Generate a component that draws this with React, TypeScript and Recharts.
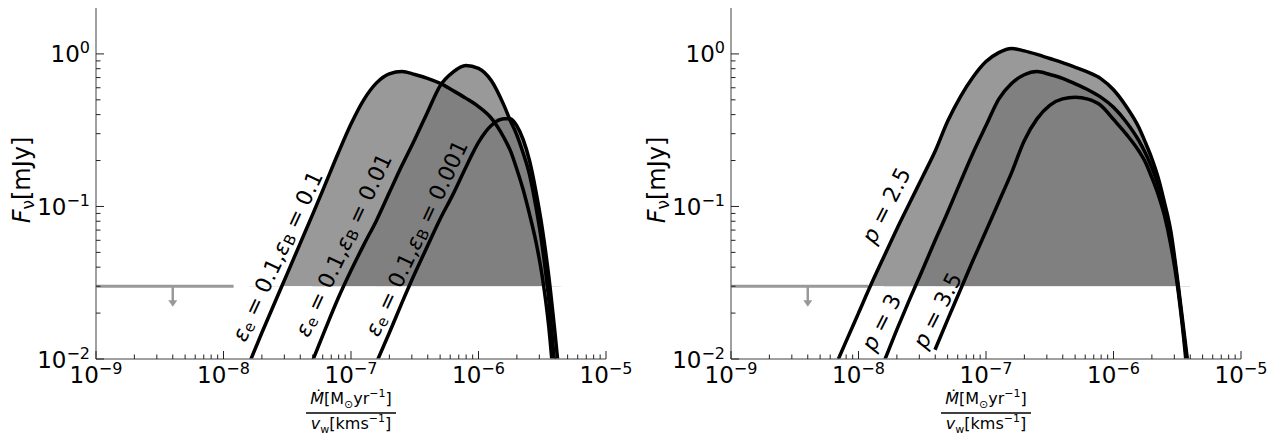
import React from "react";
import { ComposedChart, Area, Line, Scatter, XAxis, YAxis } from "recharts";

// log10 of Mdot/v_w sample positions (left panel)
const LEFT_LOGX = [
  -7.8, -7.7, -7.6, -7.5, -7.4, -7.3, -7.2, -7.1, -7.0, -6.9, -6.8, -6.7, -6.6, -6.5, -6.4,
  -6.3, -6.2, -6.1, -6.0, -5.9, -5.8, -5.75, -5.7, -5.65, -5.6, -5.55, -5.5, -5.45, -5.4, -5.35,
];
// F_nu [mJy], eps_e = 0.1, eps_B = 0.1
const LEFT_EB_01 = [
  0.0093, 0.0148, 0.0232, 0.0363, 0.0569, 0.089, 0.141, 0.224, 0.347, 0.5, 0.646, 0.741, 0.767, 0.733, 0.692,
  0.641, 0.575, 0.513, 0.452, 0.38, 0.282, 0.232, 0.176, 0.129, 0.089, 0.059, 0.0347, 0.0166, 0.0056, null,
];
// eps_B = 0.01
const LEFT_EB_001 = [
  null, null, null, null, null, 0.0098, 0.0158, 0.0251, 0.038, 0.056, 0.081, 0.123, 0.186, 0.275, 0.415,
  0.62, 0.76, 0.84, 0.805, 0.67, 0.46, 0.365, 0.295, 0.224, 0.162, 0.1, 0.055, 0.0251, 0.0087, null,
];
// eps_B = 0.001
const LEFT_EB_0001 = [
  null, null, null, null, null, null, null, null, null, null, 0.0095, 0.0148, 0.0234, 0.0363, 0.055,
  0.083, 0.12, 0.18, 0.263, 0.339, 0.376, 0.376, 0.339, 0.275, 0.2, 0.126, 0.072, 0.0355, 0.0148, 0.0056,
];

// right panel
const RIGHT_LOGX = [
  -8.2, -8.1, -8.0, -7.9, -7.8, -7.7, -7.6, -7.5, -7.4, -7.3, -7.2, -7.1, -7.0, -6.9, -6.8, -6.7, -6.6,
  -6.5, -6.4, -6.3, -6.2, -6.1, -6.0, -5.9, -5.8, -5.75, -5.7, -5.65, -5.6, -5.55, -5.5, -5.45, -5.4,
];
const RIGHT_P25 = [
  0.0083, 0.0129, 0.02, 0.031, 0.047, 0.071, 0.105, 0.155, 0.229, 0.363, 0.525, 0.708, 0.891, 1.02, 1.086, 1.047, 0.993,
  0.933, 0.877, 0.817, 0.759, 0.689, 0.582, 0.452, 0.328, 0.263, 0.207, 0.155, 0.106, 0.0684, 0.0343, 0.0158, 0.0072,
];
const RIGHT_P3 = [
  null, null, null, null, 0.0096, 0.0155, 0.0245, 0.038, 0.0596, 0.092, 0.145, 0.226, 0.339, 0.505, 0.64, 0.73, 0.766,
  0.733, 0.692, 0.637, 0.582, 0.521, 0.447, 0.358, 0.269, 0.224, 0.18, 0.138, 0.096, 0.0617, 0.0327, 0.0148, 0.0063,
];
const RIGHT_P35 = [
  null, null, null, null, null, null, null, null, 0.0115, 0.0182, 0.0285, 0.0447, 0.069, 0.107, 0.166, 0.27, 0.375,
  0.46, 0.507, 0.52, 0.505, 0.46, 0.372, 0.298, 0.23, 0.195, 0.155, 0.12, 0.087, 0.0556, 0.0309, 0.0138, 0.005,
];

const LEFT_LABELS = [
  { x: 2.63e-8, y: 0.0473, eB: "0.1" },
  { x: 8.65e-8, y: 0.056, eB: "0.01" },
  { x: 3.24e-7, y: 0.062, eB: "0.001" },
];
const RIGHT_LABELS = [
  { x: 1.64e-8, y: 0.102, p: "2.5" },
  { x: 1.5e-8, y: 0.0175, p: "3" },
  { x: 4.13e-8, y: 0.0209, p: "3.5" },
];

const THRESHOLD = 0.03;
const LIMIT_END = 1.2e-8;
const ARROW_X = 4e-9;

const X_MIN = 1e-9;
const X_MAX = 1e-5;
const Y_MIN = 0.01;
const Y_MAX = 2;

const X_MAJOR = [1e-9, 1e-8, 1e-7, 1e-6, 1e-5];
const X_MAJOR_EXP = ["−9", "−8", "−7", "−6", "−5"];
const Y_MAJOR = [0.01, 0.1, 1];
const Y_MAJOR_EXP = ["−2", "−1", "0"];
const MINOR_MANT = [2, 3, 4, 5, 6, 7, 8, 9];

const X_TICKS = [...X_MAJOR, ...X_MAJOR.slice(0, -1).flatMap((d) => MINOR_MANT.map((m) => m * d))].sort((a, b) => a - b);
const Y_TICKS = [...Y_MAJOR, ...Y_MAJOR.slice(0, -1).flatMap((d) => MINOR_MANT.map((m) => m * d))].sort((a, b) => a - b);

const FONT = "DejaVu Sans, Verdana, sans-serif";
const LIGHT = "#999999";
const DARK = "#808080";
const LIMIT = "#999999";

function buildRows(logx: number[], series: (number | null)[][]) {
  return logx.map((l, i) => {
    const row: any = { x: Math.pow(10, l) };
    const vals: number[] = [];
    series.forEach((s, k) => {
      row["s" + k] = s[i];
      if (s[i] != null) vals.push(s[i] as number);
    });
    vals.sort((a, b) => b - a);
    row.second = vals.length > 1 ? vals[1] : null;
    return row;
  });
}

const LEFT_ROWS = buildRows(LEFT_LOGX, [LEFT_EB_01, LEFT_EB_001, LEFT_EB_0001]);
const RIGHT_ROWS = buildRows(RIGHT_LOGX, [RIGHT_P25, RIGHT_P3, RIGHT_P35]);
const MASK = [
  { x: X_MIN, lo: Y_MIN, hi: THRESHOLD },
  { x: X_MAX, lo: Y_MIN, hi: THRESHOLD },
];
const LIMIT_LINE = [
  { x: X_MIN, y: THRESHOLD },
  { x: LIMIT_END, y: THRESHOLD },
];
const ARROW = [{ x: ARROW_X, y: THRESHOLD }];

function XTick({ x, y, payload }: any) {
  const idx = X_MAJOR.indexOf(payload.value);
  const major = idx >= 0;
  return (
    <g>
      <line x1={x} x2={x} y1={y} y2={y - (major ? 8 : 4.5)} stroke="#222" strokeWidth={1} />
      {major && (
        <text x={x} y={y + 24} textAnchor="middle" fontSize={23} fontFamily={FONT} fill="#000">
          10
          <tspan dy={-9} fontSize={16}>
            {X_MAJOR_EXP[idx]}
          </tspan>
        </text>
      )}
    </g>
  );
}

function YTick({ x, y, payload }: any) {
  const idx = Y_MAJOR.indexOf(payload.value);
  const major = idx >= 0;
  return (
    <g>
      <line x1={x} x2={x + (major ? 8 : 4.5)} y1={y} y2={y} stroke="#222" strokeWidth={1} />
      {major && (
        <text x={x - 6} y={y + 8.5} textAnchor="end" fontSize={23} fontFamily={FONT} fill="#000">
          10
          <tspan dy={-9} fontSize={16}>
            {Y_MAJOR_EXP[idx]}
          </tspan>
        </text>
      )}
    </g>
  );
}

function ArrowShape({ cx, cy }: any) {
  return (
    <g>
      <line x1={cx} x2={cx} y1={cy} y2={cy + 15} stroke={LIMIT} strokeWidth={2.5} />
      <path d={`M${cx - 4.5},${cy + 14} L${cx + 4.5},${cy + 14} L${cx},${cy + 20.5} Z`} fill={LIMIT} />
    </g>
  );
}

function EpsLabel({ cx, cy, payload }: any) {
  return (
    <text
      x={cx}
      y={cy}
      transform={`rotate(-65 ${cx} ${cy})`}
      textAnchor="middle"
      dominantBaseline="central"
      fontSize={22}
      fontFamily={FONT}
      fill="#000"
    >
      <tspan fontStyle="italic">ε</tspan>
      <tspan dy={5} fontSize={15}>e</tspan>
      <tspan dy={-5}>{" = 0.1,"}</tspan>
      <tspan fontStyle="italic">ε</tspan>
      <tspan dy={5} fontSize={15}>B</tspan>
      <tspan dy={-5}>{" = " + payload.eB}</tspan>
    </text>
  );
}

function PLabel({ cx, cy, payload }: any) {
  return (
    <text
      x={cx}
      y={cy}
      transform={`rotate(-63 ${cx} ${cy})`}
      textAnchor="middle"
      dominantBaseline="central"
      fontSize={22}
      fontFamily={FONT}
      fill="#000"
    >
      <tspan fontStyle="italic">p</tspan>
      <tspan>{" = " + payload.p}</tspan>
    </text>
  );
}

function Panel({ rows, labels, labelShape }: any) {
  const keys = ["s0", "s1", "s2"];
  return (
    <ComposedChart width={640} height={436} data={rows} margin={{ top: 8, right: 34, bottom: 0, left: 0 }}>
      <XAxis
        dataKey="x"
        type="number"
        scale="log"
        domain={[X_MIN, X_MAX]}
        allowDataOverflow
        ticks={X_TICKS}
        interval={0}
        tick={<XTick />}
        tickLine={false}
        tickSize={0}
        tickMargin={0}
        height={77}
        axisLine={{ stroke: "#808080", strokeWidth: 1.5 }}
      />
      <XAxis
        xAxisId="top"
        orientation="top"
        dataKey="x"
        type="number"
        scale="log"
        domain={[X_MIN, X_MAX]}
        allowDataOverflow
        tick={false}
        tickLine={false}
        height={0}
        axisLine={{ stroke: "#111", strokeWidth: 1 }}
      />
      <YAxis
        type="number"
        scale="log"
        domain={[Y_MIN, Y_MAX]}
        allowDataOverflow
        ticks={Y_TICKS}
        interval={0}
        tick={<YTick />}
        tickLine={false}
        tickSize={0}
        tickMargin={0}
        width={96}
        axisLine={{ stroke: "#808080", strokeWidth: 1.5 }}
      />
      <YAxis
        yAxisId="right"
        orientation="right"
        type="number"
        scale="log"
        domain={[Y_MIN, Y_MAX]}
        allowDataOverflow
        tick={false}
        tickLine={false}
        width={0}
        axisLine={{ stroke: "#808080", strokeWidth: 1.5 }}
      />
      {keys.map((k) => (
        <Area
          key={"fill-" + k}
          type="monotone"
          dataKey={(d: any) => (d[k] == null ? null : [THRESHOLD, d[k]])}
          fill={LIGHT}
          fillOpacity={1}
          stroke="none"
          connectNulls={false}
          isAnimationActive={false}
        />
      ))}
      <Area
        type="monotone"
        dataKey={(d: any) => (d.second == null ? null : [THRESHOLD, d.second])}
        fill={DARK}
        fillOpacity={1}
        stroke="none"
        connectNulls={false}
        isAnimationActive={false}
      />
      <Area
        data={MASK}
        type="linear"
        dataKey={(d: any) => [d.lo, d.hi]}
        fill="#ffffff"
        fillOpacity={1}
        stroke="none"
        isAnimationActive={false}
      />
      <Line data={LIMIT_LINE} dataKey="y" type="linear" stroke={LIMIT} strokeWidth={3} dot={false} isAnimationActive={false} />
      {keys.map((k) => (
        <Line
          key={"line-" + k}
          dataKey={k}
          type="monotone"
          stroke="#000"
          strokeWidth={3.5}
          strokeLinejoin="round"
          dot={false}
          connectNulls={false}
          isAnimationActive={false}
        />
      ))}
      <Scatter data={ARROW} dataKey="y" shape={<ArrowShape />} isAnimationActive={false} />
      <Scatter data={labels} dataKey="y" shape={labelShape} isAnimationActive={false} />
    </ComposedChart>
  );
}

function Titles({ ox }: { ox: number }) {
  const cx = ox + 351;
  return (
    <g fontFamily={FONT} fill="#000">
      <text
        transform={`translate(${ox + 22},180) rotate(-90)`}
        textAnchor="middle"
        dominantBaseline="central"
        fontSize={24}
      >
        <tspan fontStyle="italic">F</tspan>
        <tspan dy={6} fontSize={17}>ν</tspan>
        <tspan dy={-6}>[mJy]</tspan>
      </text>
      <text x={cx} y={404} textAnchor="middle" fontSize={16}>
        <tspan fontStyle="italic">Ṁ</tspan>
        <tspan>[M</tspan>
        <tspan dy={4} fontSize={11}>⊙</tspan>
        <tspan dy={-4}>yr</tspan>
        <tspan dy={-7} fontSize={11}>−1</tspan>
        <tspan dy={7}>]</tspan>
      </text>
      <line x1={cx - 45} x2={cx + 45} y1={413} y2={413} stroke="#000" strokeWidth={1.5} />
      <text x={cx} y={429} textAnchor="middle" fontSize={16}>
        <tspan fontStyle="italic">v</tspan>
        <tspan dy={4} fontSize={11}>w</tspan>
        <tspan dy={-4}>[kms</tspan>
        <tspan dy={-7} fontSize={11}>−1</tspan>
        <tspan dy={7}>]</tspan>
      </text>
    </g>
  );
}

export default function App() {
  return (
    <div style={{ position: "absolute", left: 0, top: 0, width: 1275, height: 436, background: "#fff" }}>
      <div style={{ position: "absolute", left: 0, top: 0 }}>
        <Panel rows={LEFT_ROWS} labels={LEFT_LABELS} labelShape={<EpsLabel />} />
      </div>
      <div style={{ position: "absolute", left: 635, top: 0 }}>
        <Panel rows={RIGHT_ROWS} labels={RIGHT_LABELS} labelShape={<PLabel />} />
      </div>
      <svg
        width={1275}
        height={436}
        style={{ position: "absolute", left: 0, top: 0, pointerEvents: "none" }}
      >
        <Titles ox={0} />
        <Titles ox={635} />
      </svg>
    </div>
  );
}
